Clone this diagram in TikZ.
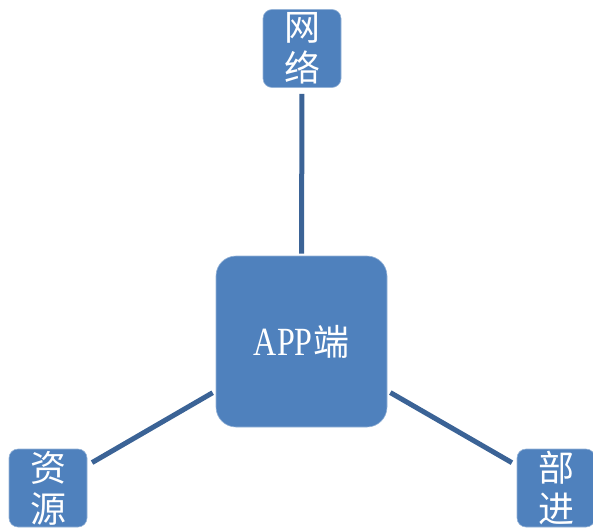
\documentclass[tikz,border=0pt]{standalone}
\usepackage{fontspec}
\setmainfont{Liberation Serif}
\newfontfamily\cjk{Noto Sans CJK SC}
\definecolor{boxblue}{RGB}{79,129,189}
\definecolor{linkblue}{RGB}{59,99,150}
\begin{document}
\begin{tikzpicture}[x=1pt,y=1pt,
  hub/.style={draw=boxblue!60!white, line width=0.6pt, fill=boxblue, rounded corners=20pt,
              minimum width=171pt, minimum height=171pt, inner sep=0pt},
  leaf/.style={draw=boxblue!60!white, line width=0.6pt, fill=boxblue, rounded corners=9pt,
               minimum width=78pt, minimum height=78pt, inner sep=0pt},
  leaftext/.style={text=white, font=\cjk\fontsize{36}{41}\selectfont, align=center, inner sep=0pt},
  link/.style={draw=linkblue, line width=5pt}]
  \useasboundingbox (0,0) rectangle (593,-527);

  % central application box
  \node[hub] (app) at (301.5,-341.5) {};
  \node[text=white, inner sep=0pt] (applabel) at (app)
    {\fontsize{40}{42}\selectfont\scalebox{0.8}[1]{APP}\hspace{0.5pt}{\cjk\fontsize{36}{42}\selectfont 端}};

  % surrounding boxes
  \node[leaf] (net)  at (302,-48.5) {};
  \node[leaf] (res)  at (48,-488) {};
  \node[leaf] (dept) at (556,-488) {};
  \node[leaftext] (nettext)  at (net)  {网\\络};
  \node[leaftext] (restext)  at (res)  {资\\源};
  \node[leaftext] (depttext) at (dept) {部\\进};

  % connectors
  \draw[link, shorten <=6pt, shorten >=2pt] (net.south) -- (app.north);
  \draw[link, shorten <=3.5pt, shorten >=5.5pt] (app) -- (res);
  \draw[link, shorten <=3.5pt, shorten >=5.5pt] (app) -- (dept);
\end{tikzpicture}
\end{document}
